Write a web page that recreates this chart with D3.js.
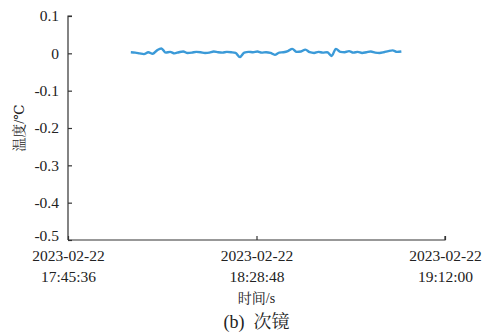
<!DOCTYPE html>
<html><head><meta charset="utf-8">
<script src="https://cdn.jsdelivr.net/npm/d3@7"></script>
<style>
body{margin:0;background:#fff;}
svg{display:block;}
</style></head><body>
<svg id="c" width="483" height="333"></svg>
<script>
const startTime = "2023-02-22 18:00:00";
const stepSeconds = 60;
const values = [
 0.003, 0.002, 0.000, -0.002, 0.003, -0.001, 0.008, 0.013, 0.002, 0.004,
 0.000, 0.003, 0.005, 0.001, 0.002, 0.004, 0.003, 0.001, 0.002, 0.005,
 0.003, 0.002, 0.004, 0.003, 0.001, -0.010, 0.002, 0.004, 0.003, 0.005,
 0.002, 0.003, 0.001, -0.004, 0.002, 0.003, 0.006, 0.012, 0.004, 0.005,
 0.010, 0.003, 0.001, 0.004, 0.002, 0.003, -0.007, 0.012, 0.004, 0.003,
 0.006, 0.002, 0.004, 0.001, 0.003, 0.005, 0.002, 0.001, 0.003, 0.006,
 0.008, 0.004, 0.005
];
const xTickLabels = ["2023-02-22 17:45:36","2023-02-22 18:28:48","2023-02-22 19:12:00"];
const yTicks = [0.1, 0, -0.1, -0.2, -0.3, -0.4, -0.5];
const yTitle = "温度/℃";
const xTitle = "时间/s";
const captionTag = "(b)";
const captionText = "次镜";

const FONT = '"Liberation Serif", Tinos, "Times New Roman", "DejaVu Serif", "Noto Serif CJK SC", "Noto Sans CJK SC", serif';
const parse = d3.timeParse("%Y-%m-%d %H:%M:%S");
const t0 = parse(startTime);
const data = values.map((v,i)=>({t:new Date(t0.getTime()+i*stepSeconds*1000), v}));
const xTicks = xTickLabels.map(parse);

const svg = d3.select("#c").attr("font-family", FONT);
const m = {l:68, r:445, t:16, b:240};
const x = d3.scaleTime().domain([xTicks[0], xTicks[2]]).range([m.l, m.r]);
const y = d3.scaleLinear().domain([-0.5, 0.1]).range([m.b, m.t]);
const fmtY = d => d === 0 ? "0" : (d < 0 ? "-" : "") + Math.abs(d).toFixed(1);

const yAx = svg.append("g").attr("transform",`translate(${m.l},0)`)
  .call(d3.axisRight(y).tickValues(yTicks).tickSize(4).tickFormat(fmtY));
yAx.attr("font-family", FONT);
yAx.select(".domain").attr("stroke","#333").attr("stroke-width",1.2).attr("d",`M4,${m.t}H0V${m.b}`);
yAx.selectAll(".tick line").attr("stroke","#333").attr("stroke-width",1.2);
yAx.selectAll(".tick text").attr("x",-9).attr("text-anchor","end").attr("font-size",15.5)
  .attr("dy","0.32em").attr("fill","#222");
yAx.selectAll(".tick").filter(d=>d===-0.5).select("text").attr("dy","0.05em");

const xAx = svg.append("g").attr("transform",`translate(0,${m.b})`)
  .call(d3.axisTop(x).tickValues(xTicks).tickSize(4).tickFormat(""));
xAx.attr("font-family", FONT);
xAx.select(".domain").attr("stroke","#333").attr("stroke-width",1.2).attr("d",`M${m.l},0H${m.r}V-4`);
xAx.selectAll(".tick line").attr("stroke","#333").attr("stroke-width",1.2);
const fmtD = d3.timeFormat("%Y-%m-%d"), fmtT = d3.timeFormat("%H:%M:%S");
xAx.selectAll(".tick").each(function(d){
  const g = d3.select(this);
  g.append("text").attr("y",20.5).attr("text-anchor","middle").attr("font-size",15.5).attr("fill","#222").text(fmtD(d));
  g.append("text").attr("y",42).attr("text-anchor","middle").attr("font-size",15.5).attr("fill","#222").text(fmtT(d));
});

svg.append("path").datum(data)
  .attr("fill","none").attr("stroke","#3b9ad8").attr("stroke-width",2.4).attr("stroke-linejoin","round")
  .attr("d", d3.line().x(d=>x(d.t)).y(d=>y(d.v)).curve(d3.curveMonotoneX));

svg.append("text").attr("transform",`translate(24,${(m.t+m.b)/2}) rotate(-90)`)
  .attr("text-anchor","middle").attr("font-size",14).attr("fill","#222").text(yTitle);
svg.append("text").attr("x",(m.l+m.r)/2).attr("y",303).attr("text-anchor","middle").attr("font-size",14).attr("fill","#222").text(xTitle);
const cap = svg.append("text").attr("x",(m.l+m.r)/2).attr("y",328).attr("text-anchor","middle").attr("font-size",18).attr("fill","#222");
cap.append("tspan").text(captionTag);
cap.append("tspan").attr("dx",9).text(captionText);
</script></body></html>
